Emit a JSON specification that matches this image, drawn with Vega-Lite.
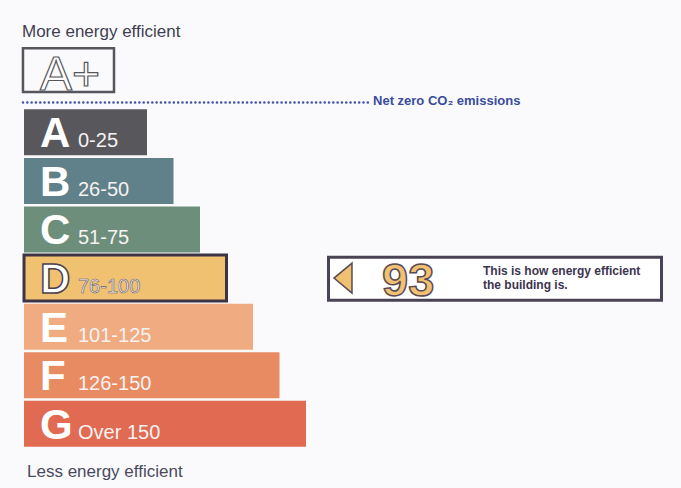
{
  "$schema": "https://vega.github.io/schema/vega-lite/v6.json",
  "width": 681,
  "height": 488,
  "autosize": {"type": "fit", "contains": "padding"},
  "padding": 0,
  "background": "#fafafc",
  "config": {"view": {"stroke": null}, "text": {"font": "Liberation Sans"}},
  "datasets": {
    "bands": [
      {"band": "A", "range": "0-25", "rank": 1},
      {"band": "B", "range": "26-50", "rank": 2},
      {"band": "C", "range": "51-75", "rank": 3},
      {"band": "D", "range": "76-100", "rank": 4},
      {"band": "E", "range": "101-125", "rank": 5},
      {"band": "F", "range": "126-150", "rank": 6},
      {"band": "G", "range": "Over 150", "rank": 7}
    ],
    "rating": [{"score": "93", "band": "D", "rank": 4}],
    "one": [{}]
  },
  "layer": [
    {
      "data": {"name": "bands"},
      "mark": {"type": "bar", "orient": "horizontal", "height": 46, "stroke": "#3d3545"},
      "encoding": {
        "x": {"field": "rank", "type": "quantitative", "scale": {"domain": [-4.547, 21.151], "nice": false, "zero": false}, "axis": null},
        "x2": {"datum": -3.641},
        "y": {"field": "rank", "type": "quantitative", "scale": {"domain": [-1.621, 8.218], "nice": false, "zero": false, "reverse": true}, "axis": null},
        "color": {"field": "band", "type": "nominal", "legend": null,
          "scale": {"domain": ["A", "B", "C", "D", "E", "F", "G"], "range": ["#58575c", "#60808a", "#6c8e7b", "#f0c171", "#f0ab80", "#e98b62", "#e06b52"]}},
        "strokeWidth": {"condition": {"test": "datum.band === 'D'", "value": 3}, "value": 0}
      }
    },
    {
      "data": {"name": "bands"},
      "mark": {"type": "text", "align": "left", "baseline": "alphabetic", "dy": 15, "fontSize": 42, "fontWeight": "bold", "fill": "#ffffff", "stroke": "#4a4050"},
      "encoding": {
        "x": {"datum": -3.038, "type": "quantitative", "scale": {"domain": [-4.547, 21.151], "nice": false, "zero": false}, "axis": null},
        "y": {"field": "rank", "type": "quantitative", "scale": {"domain": [-1.621, 8.218], "nice": false, "zero": false, "reverse": true}, "axis": null},
        "text": {"field": "band", "type": "nominal"},
        "strokeWidth": {"condition": {"test": "datum.band === 'D'", "value": 1.5}, "value": 0}
      }
    },
    {
      "data": {"name": "bands"},
      "mark": {"type": "text", "align": "left", "baseline": "alphabetic", "dy": 15, "fontSize": 20, "stroke": "#6a6070"},
      "encoding": {
        "x": {"datum": -1.604, "type": "quantitative", "scale": {"domain": [-4.547, 21.151], "nice": false, "zero": false}, "axis": null},
        "y": {"field": "rank", "type": "quantitative", "scale": {"domain": [-1.621, 8.218], "nice": false, "zero": false, "reverse": true}, "axis": null},
        "text": {"field": "range", "type": "nominal"},
        "fill": {"condition": {"test": "datum.band === 'D'", "value": "#f4eeea"}, "value": "#f6f2f2"},
        "strokeWidth": {"condition": {"test": "datum.band === 'D'", "value": 0.6}, "value": 0}
      }
    },
    {
      "data": {"name": "rating"},
      "mark": {"type": "rect", "fill": "#ffffff", "stroke": "#4a4356", "strokeWidth": 3},
      "encoding": {
        "x": {"datum": 7.849, "type": "quantitative", "scale": {"domain": [-4.547, 21.151], "nice": false, "zero": false}, "axis": null},
        "x2": {"datum": 20.415},
        "y": {"datum": 3.57, "type": "quantitative", "scale": {"domain": [-1.621, 8.218], "nice": false, "zero": false, "reverse": true}, "axis": null},
        "y2": {"datum": 4.458}
      }
    },
    {
      "data": {"name": "rating"},
      "mark": {"type": "point", "shape": "M0.6,-1L0.6,1L-0.6,0Z", "size": 900, "filled": true, "fill": "#f0c171", "stroke": "#5a4a55", "strokeWidth": 1.5, "opacity": 1},
      "encoding": {
        "x": {"datum": 8.396, "type": "quantitative", "scale": {"domain": [-4.547, 21.151], "nice": false, "zero": false}, "axis": null},
        "y": {"field": "rank", "type": "quantitative", "scale": {"domain": [-1.621, 8.218], "nice": false, "zero": false, "reverse": true}, "axis": null}
      }
    },
    {
      "data": {"name": "rating"},
      "mark": {"type": "text", "align": "left", "baseline": "alphabetic", "dy": 18, "fontSize": 47, "fontWeight": "bold", "fill": "#f0c171", "stroke": "#5a4a55", "strokeWidth": 1.5},
      "encoding": {
        "x": {"datum": 9.868, "type": "quantitative", "scale": {"domain": [-4.547, 21.151], "nice": false, "zero": false}, "axis": null},
        "y": {"field": "rank", "type": "quantitative", "scale": {"domain": [-1.621, 8.218], "nice": false, "zero": false, "reverse": true}, "axis": null},
        "text": {"field": "score", "type": "nominal"}
      }
    },
    {
      "data": {"name": "rating"},
      "mark": {"type": "text", "align": "left", "baseline": "alphabetic", "dy": -3, "fontSize": 12, "fontWeight": "bold", "fill": "#3d3450", "text": "This is how energy efficient"},
      "encoding": {
        "x": {"datum": 13.679, "type": "quantitative", "scale": {"domain": [-4.547, 21.151], "nice": false, "zero": false}, "axis": null},
        "y": {"field": "rank", "type": "quantitative", "scale": {"domain": [-1.621, 8.218], "nice": false, "zero": false, "reverse": true}, "axis": null}
      }
    },
    {
      "data": {"name": "rating"},
      "mark": {"type": "text", "align": "left", "baseline": "alphabetic", "dy": 11, "fontSize": 12, "fontWeight": "bold", "fill": "#3d3450", "text": "the building is."},
      "encoding": {
        "x": {"datum": 13.679, "type": "quantitative", "scale": {"domain": [-4.547, 21.151], "nice": false, "zero": false}, "axis": null},
        "y": {"field": "rank", "type": "quantitative", "scale": {"domain": [-1.621, 8.218], "nice": false, "zero": false, "reverse": true}, "axis": null}
      }
    },
    {
      "data": {"name": "one"},
      "mark": {"type": "text", "align": "left", "baseline": "alphabetic", "fontSize": 17, "fill": "#3f3f50", "text": "More energy efficient"},
      "encoding": {
        "x": {"datum": -3.717, "type": "quantitative", "scale": {"domain": [-4.547, 21.151], "nice": false, "zero": false}, "axis": null},
        "y": {"datum": -0.956, "type": "quantitative", "scale": {"domain": [-1.621, 8.218], "nice": false, "zero": false, "reverse": true}, "axis": null}
      }
    },
    {
      "data": {"name": "one"},
      "mark": {"type": "rect", "fill": "#ffffff", "fillOpacity": 0, "stroke": "#56565c", "strokeWidth": 2.5},
      "encoding": {
        "x": {"datum": -3.68, "type": "quantitative", "scale": {"domain": [-4.547, 21.151], "nice": false, "zero": false}, "axis": null},
        "x2": {"datum": -0.245},
        "y": {"datum": -0.73, "type": "quantitative", "scale": {"domain": [-1.621, 8.218], "nice": false, "zero": false, "reverse": true}, "axis": null},
        "y2": {"datum": 0.17}
      }
    },
    {
      "data": {"name": "one"},
      "mark": {"type": "text", "align": "left", "baseline": "alphabetic", "fontSize": 48, "fill": "#ffffff", "stroke": "#56565c", "strokeWidth": 1.2, "text": "A+"},
      "encoding": {
        "x": {"datum": -3.038, "type": "quantitative", "scale": {"domain": [-4.547, 21.151], "nice": false, "zero": false}, "axis": null},
        "y": {"datum": 0.133, "type": "quantitative", "scale": {"domain": [-1.621, 8.218], "nice": false, "zero": false, "reverse": true}, "axis": null}
      }
    },
    {
      "data": {"name": "one"},
      "mark": {"type": "rule", "color": "#4455a5", "strokeWidth": 2.6, "strokeDash": [0.01, 4.3], "strokeCap": "round"},
      "encoding": {
        "x": {"datum": -3.679, "type": "quantitative", "scale": {"domain": [-4.547, 21.151], "nice": false, "zero": false}, "axis": null},
        "x2": {"datum": 9.34},
        "y": {"datum": 0.385, "type": "quantitative", "scale": {"domain": [-1.621, 8.218], "nice": false, "zero": false, "reverse": true}, "axis": null}
      }
    },
    {
      "data": {"name": "one"},
      "mark": {"type": "text", "align": "left", "baseline": "alphabetic", "fontSize": 13, "fontWeight": "bold", "fill": "#3a4c9c", "text": "Net zero CO₂ emissions"},
      "encoding": {
        "x": {"datum": 9.529, "type": "quantitative", "scale": {"domain": [-4.547, 21.151], "nice": false, "zero": false}, "axis": null},
        "y": {"datum": 0.435, "type": "quantitative", "scale": {"domain": [-1.621, 8.218], "nice": false, "zero": false, "reverse": true}, "axis": null}
      }
    },
    {
      "data": {"name": "one"},
      "mark": {"type": "text", "align": "left", "baseline": "alphabetic", "fontSize": 17, "fill": "#4a4a5e", "text": "Less energy efficient"},
      "encoding": {
        "x": {"datum": -3.528, "type": "quantitative", "scale": {"domain": [-4.547, 21.151], "nice": false, "zero": false}, "axis": null},
        "y": {"datum": 8.097, "type": "quantitative", "scale": {"domain": [-1.621, 8.218], "nice": false, "zero": false, "reverse": true}, "axis": null}
      }
    }
  ]
}
